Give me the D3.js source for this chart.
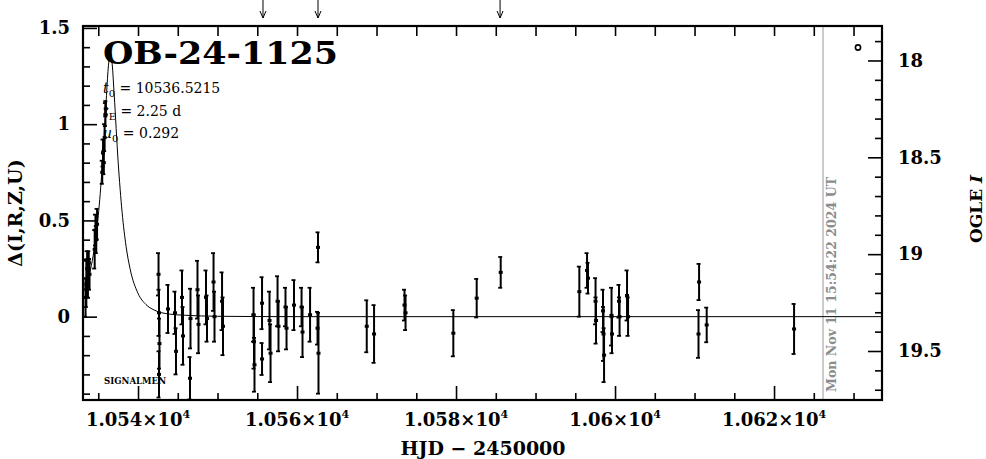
<!DOCTYPE html>
<html>
<head>
<meta charset="utf-8">
<script src="https://cdn.jsdelivr.net/npm/d3@7"></script>
<style>
  html, body { margin: 0; padding: 0; background: #fff; }
  svg { display: block; }
  text { font-family: "DejaVu Serif", "Liberation Serif", serif; fill: #000; }
</style>
</head>
<body>
<svg id="chart" width="986" height="459"></svg>
<script>
// ---------------- data ----------------
const obsHJD = [
  10533.40, 10533.50, 10533.60, 10533.70, 10533.80, 10533.90,
  10534.55, 10534.65, 10534.75, 10534.85,
  10535.50, 10535.60, 10535.70, 10535.80, 10535.90, 10535.95,
  10542.58, 10542.64, 10542.70, 10542.64,
  10543.77, 10544.65, 10544.78, 10545.53, 10545.66,
  10546.54, 10546.60, 10547.48, 10547.61, 10548.55, 10548.68,
  10549.50, 10549.62, 10550.57, 10550.69,
  10554.53, 10554.59, 10554.65, 10555.60, 10555.60,
  10556.54, 10556.67, 10557.55, 10557.67, 10558.55, 10558.68,
  10559.62, 10560.57, 10560.69, 10561.64,
  10562.64, 10562.58, 10562.70,
  10568.77, 10569.69, 10573.52, 10573.65, 10579.66, 10582.60, 10585.62,
  10595.51, 10596.48, 10596.60, 10597.55, 10597.61,
  10598.49, 10598.55, 10598.62, 10599.56, 10599.62,
  10600.50, 10600.57, 10601.51, 10601.64,
  10610.50, 10610.57, 10611.53, 10622.52
];
const obsDelta = [
  0.10, 0.17, 0.25, 0.20, 0.28, 0.22,
  0.35, 0.45, 0.40, 0.48,
  0.75, 0.85, 0.80, 0.93, 1.05, 1.08,
  0.22, 0.02, -0.14, -0.30,
  0.04, 0.02, -0.18, 0.10, -0.10,
  -0.32, -0.01, 0.14, -0.04, 0.10, -0.01,
  0.18, 0.00, 0.08, -0.05,
  0.01, -0.13, -0.25, 0.07, -0.22,
  -0.02, -0.19, 0.08, -0.05, 0.05, -0.06,
  0.06, 0.05, -0.08, 0.01,
  0.36, -0.06, -0.19,
  -0.05, -0.09, 0.06, 0.02, -0.086, 0.096, 0.23,
  0.13, 0.24, 0.20, 0.08, -0.02,
  0.03, -0.09, -0.20, 0.00, -0.09,
  0.08, 0.00, 0.11, 0.00,
  -0.09, 0.18, -0.043, -0.064
];
const obsErr = [
  0.10, 0.12, 0.09, 0.10, 0.06, 0.08,
  0.10, 0.08, 0.07, 0.08,
  0.06, 0.07, 0.06, 0.07, 0.06, 0.04,
  0.11, 0.12, 0.13, 0.12,
  0.125, 0.11, 0.12, 0.14, 0.15,
  0.11, 0.155, 0.15, 0.15, 0.14, 0.12,
  0.15, 0.13, 0.15, 0.15,
  0.14, 0.14, 0.14, 0.135, 0.083,
  0.15, 0.15, 0.13, 0.13, 0.10, 0.11,
  0.13, 0.10, 0.13, 0.14,
  0.078, 0.085, 0.21,
  0.135, 0.15, 0.08, 0.09, 0.12, 0.10, 0.08,
  0.13, 0.09, 0.08, 0.12, 0.12,
  0.11, 0.14, 0.14, 0.15, 0.10,
  0.085, 0.10, 0.13, 0.10,
  0.124, 0.094, 0.09, 0.13
];

// model light curve
const modelHJD = [
  10533.08, 10533.5, 10534.0, 10534.5, 10535.0, 10535.5, 10535.75, 10536.0,
  10536.25, 10536.52, 10536.75, 10537.0, 10537.5, 10538.0, 10538.5, 10539.0,
  10540.0, 10541.0, 10542.0, 10544.0, 10546.0, 10550.0, 10560.0, 10633.58
];
const modelDelta = [
  0.122, 0.167, 0.241, 0.353, 0.524, 0.780, 0.945, 1.126,
  1.290, 1.371, 1.312, 1.156, 0.805, 0.542, 0.365, 0.249,
  0.121, 0.063, 0.035, 0.013, 0.007, 0.002, 0.000, 0.000
];

const arrowHJD = [10555.72, 10562.64, 10585.54];

const leftMajor = [0, 0.5, 1, 1.5];
const leftMinor = [-0.4, -0.3, -0.2, -0.1, 0.1, 0.2, 0.3, 0.4, 0.6, 0.7, 0.8, 0.9, 1.1, 1.2, 1.3, 1.4];
const rightMajor = [18, 18.5, 19, 19.5];
const rightMinor = [17.9, 18.1, 18.2, 18.3, 18.4, 18.6, 18.7, 18.8, 18.9, 19.1, 19.2, 19.3, 19.4, 19.6, 19.7];
const xMajor = [10540, 10560, 10580, 10600, 10620];
const xMajorMant = ["1.054", "1.056", "1.058", "1.06", "1.062"];
const xMinor = [10535, 10545, 10550, 10555, 10565, 10570, 10575, 10585, 10590, 10595, 10605, 10610, 10615, 10625, 10630];
const xTop = [10535, 10540, 10545, 10550, 10555, 10560, 10565, 10570, 10575, 10580, 10585, 10590, 10595, 10600, 10605, 10610, 10615, 10620, 10625, 10630];

const titleText = "OB-24-1125";
const stampText = "Mon Nov 11 15:54:22 2024 UT";
const stampHJD = 10626.16;

// ---------------- layout ----------------
const L = 83, R = 882, T = 26, B = 400;
const svg = d3.select("#chart");

const x = d3.scaleLinear().domain([10533.08, 10633.58]).range([L, R]);
const y = d3.scaleLinear().domain([-0.433, 1.510]).range([B, T]);
const yR = d3.scaleLinear().domain([17.822, 19.753]).range([T, B]);

svg.append("defs").append("clipPath").attr("id", "clip")
  .append("rect").attr("x", L).attr("y", T).attr("width", R - L).attr("height", B - T);

// gray date line + stamp
svg.append("line").attr("x1", x(stampHJD)).attr("x2", x(stampHJD))
  .attr("y1", T).attr("y2", B).attr("stroke", "#9a9a9a").attr("stroke-width", 1);
svg.append("text")
  .attr("transform", `translate(${x(stampHJD) + 13},392) rotate(-90)`)
  .attr("font-size", 12.5).attr("font-weight", "bold")
  .style("fill", "#8c8c8c")
  .attr("textLength", 215).attr("lengthAdjust", "spacingAndGlyphs")
  .text(stampText);

// axes: ticks pointing inward
function styleAxis(g) {
  g.select(".domain").remove();
  g.selectAll(".tick line").attr("stroke", "#000").attr("stroke-width", 1.6);
}
function styleLabels(g) {
  g.selectAll("text").attr("font-size", 18).attr("font-weight", "bold")
    .style("font-family", "DejaVu Serif");
}
svg.append("g").attr("transform", `translate(${L},0)`)
  .call(d3.axisLeft(y).tickValues(leftMajor).tickSize(-14).tickPadding(13).tickFormat(d => String(d)))
  .call(styleAxis).call(styleLabels);
svg.append("g").attr("transform", `translate(${L},0)`)
  .call(d3.axisLeft(y).tickValues(leftMinor).tickSize(-7).tickFormat(""))
  .call(styleAxis);
svg.append("g").attr("transform", `translate(${R},0)`)
  .call(d3.axisRight(yR).tickValues(rightMajor).tickSize(-14).tickPadding(16).tickFormat(d => String(d)))
  .call(styleAxis).call(styleLabels);
svg.append("g").attr("transform", `translate(${R},0)`)
  .call(d3.axisRight(yR).tickValues(rightMinor).tickSize(-7).tickFormat(""))
  .call(styleAxis);
svg.append("g").attr("transform", `translate(0,${B})`)
  .call(d3.axisBottom(x).tickValues(xMajor).tickSize(-14).tickFormat(""))
  .call(styleAxis);
svg.append("g").attr("transform", `translate(0,${B})`)
  .call(d3.axisBottom(x).tickValues(xMinor).tickSize(-7).tickFormat(""))
  .call(styleAxis);
svg.append("g").attr("transform", `translate(0,${T})`)
  .call(d3.axisTop(x).tickValues(xTop).tickSize(-10).tickFormat(""))
  .call(styleAxis);

// x tick labels with superscript exponent
xMajor.forEach((v, i) => {
  const t = svg.append("text").attr("x", x(v)).attr("y", 426)
    .attr("text-anchor", "middle").attr("font-size", 18).attr("font-weight", "bold");
  t.append("tspan").text(xMajorMant[i] + "×10");
  t.append("tspan").attr("dy", -8).attr("font-size", 11).text("4");
});

// frame
svg.append("rect").attr("x", L).attr("y", T).attr("width", R - L).attr("height", B - T)
  .attr("fill", "none").attr("stroke", "#000").attr("stroke-width", 2.2);

// model curve
const line = d3.line().x((d, i) => x(modelHJD[i])).y((d, i) => y(modelDelta[i])).curve(d3.curveMonotoneX);
svg.append("path").datum(modelHJD).attr("d", line)
  .attr("fill", "none").attr("stroke", "#000").attr("stroke-width", 1)
  .attr("clip-path", "url(#clip)");

// data points with error bars
const pts = obsHJD.map((t, i) => ({ t, d: obsDelta[i], e: obsErr[i] }));
const gp = svg.append("g").attr("clip-path", "url(#clip)");
const eb = gp.selectAll("g.pt").data(pts).join("g").attr("class", "pt");
eb.append("line")
  .attr("x1", d => x(d.t)).attr("x2", d => x(d.t))
  .attr("y1", d => y(d.d + d.e)).attr("y2", d => y(d.d - d.e))
  .attr("stroke", "#000").attr("stroke-width", 2);
eb.append("line")
  .attr("x1", d => x(d.t) - 2.5).attr("x2", d => x(d.t) + 1.5)
  .attr("y1", d => y(d.d + d.e)).attr("y2", d => y(d.d + d.e))
  .attr("stroke", "#000").attr("stroke-width", 1.8);
eb.append("line")
  .attr("x1", d => x(d.t) - 2.5).attr("x2", d => x(d.t) + 1.5)
  .attr("y1", d => y(d.d - d.e)).attr("y2", d => y(d.d - d.e))
  .attr("stroke", "#000").attr("stroke-width", 1.8);
eb.append("rect")
  .attr("x", d => x(d.t) - 2).attr("y", d => y(d.d) - 1.5)
  .attr("width", 4).attr("height", 3).attr("fill", "#000");

// top arrows
arrowHJD.forEach(v => {
  const ax = x(v);
  svg.append("line").attr("x1", ax).attr("x2", ax).attr("y1", 0).attr("y2", 18)
    .attr("stroke", "#000").attr("stroke-width", 1);
  svg.append("path").attr("d", `M${ax - 3},${11} L${ax},${18} L${ax + 3},${11}`)
    .attr("fill", "none").attr("stroke", "#000").attr("stroke-width", 1);
});

// legend circle (OGLE)
svg.append("circle").attr("cx", 858).attr("cy", 47.5).attr("r", 2.6)
  .attr("fill", "none").attr("stroke", "#000").attr("stroke-width", 1.6);

// title and parameters
svg.append("text").attr("x", 103).attr("y", 64).attr("font-size", 31).attr("font-weight", "bold")
  .attr("textLength", 235).attr("lengthAdjust", "spacingAndGlyphs").text(titleText);

function paramLine(yy, sym, sub, val) {
  const t = svg.append("text").attr("x", 103).attr("y", yy).attr("font-size", 14);
  t.append("tspan").attr("font-style", "italic").text(sym);
  t.append("tspan").attr("dy", 4).attr("font-size", 10).text(sub);
  t.append("tspan").attr("dy", -4).text(" = " + val);
}
paramLine(93, "t", "0", "10536.5215");
paramLine(116, "t", "E", "2.25 d");
paramLine(138, "u", "0", "0.292");

svg.append("text").attr("x", 104).attr("y", 384).attr("font-size", 9).attr("font-weight", "bold")
  .attr("textLength", 62).attr("lengthAdjust", "spacingAndGlyphs").text("SIGNALMEN");

// axis titles
svg.append("text").attr("x", (L + R) / 2 + 0.5).attr("y", 455).attr("text-anchor", "middle")
  .attr("font-size", 19).attr("font-weight", "bold").text("HJD − 2450000");
svg.append("text").attr("transform", "translate(22,213) rotate(-90)").attr("text-anchor", "middle")
  .attr("font-size", 19).attr("font-weight", "bold").text("Δ(I,R,Z,U)");
const rt = svg.append("text").attr("transform", "translate(982,209) rotate(-90)").attr("text-anchor", "middle")
  .attr("font-size", 17).attr("font-weight", "bold");
rt.append("tspan").text("OGLE ");
rt.append("tspan").attr("font-style", "italic").text("I");
</script>
</body>
</html>
